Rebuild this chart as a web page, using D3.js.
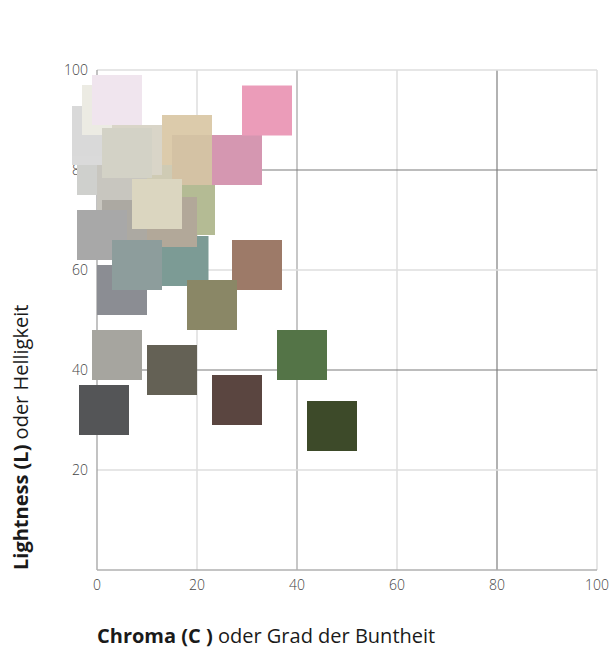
<!DOCTYPE html>
<html><head><meta charset="utf-8">
<script src="https://cdn.jsdelivr.net/npm/d3@7/dist/d3.min.js"></script>
<style>
html,body{margin:0;padding:0;background:#fff;}
svg{display:block;}
text{font-family:"Open Sans","Noto Sans",sans-serif;}
</style></head>
<body>
<svg id="chart" width="612" height="651"></svg>
<script>
// Data (in drawing order: later items drawn on top)
const chroma    = [1, 12.6, 5, 0, 0, 2, 4, 8, 6, 18, 20, 28, 34, 6, 1, 18.6, 17.3, 15, 12, 5, 8, 32, 23, 4, 15, 1.4, 28, 41, 47];
const lightness = [80, 77, 76, 86, 87.8, 92, 94, 84, 83.4, 86, 82, 82, 91.9, 69, 67, 72, 61.8, 69.6, 73.2, 56, 61, 61, 53, 43, 40, 32, 34, 43, 28.8];
const swatchColors = ["#cfd0cd","#cfcbb4","#c8c6bf","#dadada","#d9d9d9","#ecebe3","#f0e5ee","#d9d5c8","#d3d2c6",
  "#dccbab","#d4c2a4","#d597b1","#eb9cb9","#aca9a2","#a8a8a8","#b4bb94","#7c9b95","#b2a899","#dbd6c0",
  "#8b8d93","#8d9d9c","#9d7a68","#8a8766","#a6a59f","#646155","#545557","#5a4540","#547447","#3d4a29"];
const swatchSize = 10; // in chroma/lightness units
const xTicks = [0, 20, 40, 60, 80, 100];
const yTicks = [20, 40, 60, 80, 100];
const gridLines = [20, 40, 60, 80, 100];
const darkGridX = [80];
const midGridX = [40];
const darkGridY = [40, 80];

const svg = d3.select("#chart");
const x = d3.scaleLinear().domain([0, 100]).range([97, 597]);
const y = d3.scaleLinear().domain([0, 100]).range([570, 70]);

// grid
const g = svg.append("g");
g.selectAll("line.vx").data(gridLines).enter().append("line")
  .attr("x1", d => x(d)).attr("x2", d => x(d)).attr("y1", y(0)).attr("y2", y(100))
  .attr("stroke", d => darkGridX.includes(d) ? "#7f7f7f" : (midGridX.includes(d) ? "#b4b4b4" : "#dedede"))
  .attr("stroke-width", d => darkGridX.includes(d) ? 1.2 : 1.5);
g.selectAll("line.hy").data(gridLines).enter().append("line")
  .attr("x1", x(0)).attr("x2", x(100)).attr("y1", d => y(d)).attr("y2", d => y(d))
  .attr("stroke", d => darkGridY.includes(d) ? "#7a7a7a" : "#dedede")
  .attr("stroke-width", d => darkGridY.includes(d) ? 1.2 : 1.5);

// axis lines
g.append("line").attr("x1", x(0)).attr("x2", x(0)).attr("y1", y(0)).attr("y2", y(100))
  .attr("stroke", "#9a9a9a").attr("stroke-width", 1.2);
g.append("line").attr("x1", x(0)).attr("x2", x(100)).attr("y1", y(0)).attr("y2", y(0))
  .attr("stroke", "#b0b0b0").attr("stroke-width", 1.5);

// tick labels
svg.append("g").selectAll("text").data(yTicks).enter().append("text")
  .attr("x", 88).attr("y", d => y(d)).attr("dy", "0.35em")
  .attr("text-anchor", "end").attr("font-size", 14).attr("font-weight", 300).attr("fill", "#444")
  .text(d => d);
svg.append("g").selectAll("text").data(xTicks).enter().append("text")
  .attr("x", d => x(d)).attr("y", 590)
  .attr("text-anchor", "middle").attr("font-size", 14).attr("font-weight", 300).attr("fill", "#444")
  .text(d => d);

// swatches
const half = (x(swatchSize) - x(0)) / 2;
svg.append("g").selectAll("rect").data(chroma).enter().append("rect")
  .attr("x", (d, i) => x(d) - half)
  .attr("y", (d, i) => y(lightness[i]) - half)
  .attr("width", half * 2).attr("height", half * 2)
  .attr("fill", (d, i) => swatchColors[i]);

// axis titles
const xt = svg.append("text").attr("x", 97).attr("y", 643).attr("font-size", 20).attr("fill", "#1a1a1a");
xt.append("tspan").attr("font-weight", 700).text("Chroma (C )");
xt.append("tspan").attr("font-weight", 400).text(" oder Grad der Buntheit");

const yt = svg.append("text").attr("transform", "translate(28,570) rotate(-90)")
  .attr("x", 0).attr("y", 0).attr("font-size", 20).attr("fill", "#1a1a1a");
yt.append("tspan").attr("font-weight", 700).text("Lightness (L)");
yt.append("tspan").attr("font-weight", 400).text(" oder Helligkeit");
</script>
</body></html>
